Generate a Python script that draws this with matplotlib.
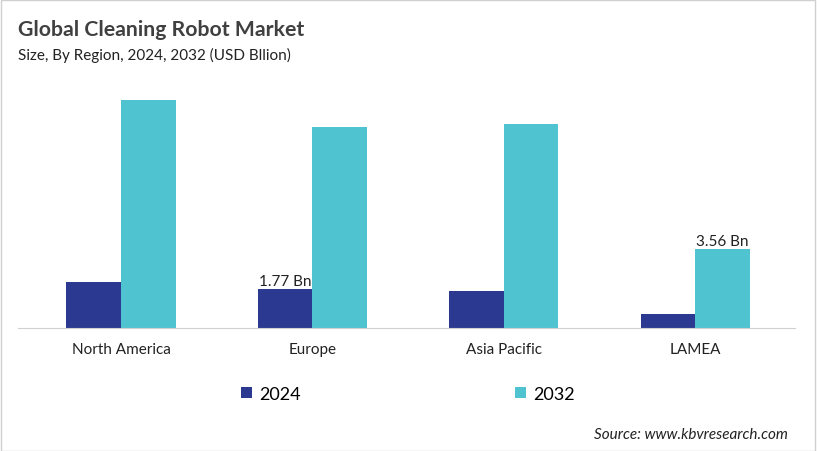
import matplotlib.pyplot as plt
import numpy as np
from matplotlib.patches import Rectangle

regions = ["North America", "Europe", "Asia Pacific", "LAMEA"]
val_2024 = [2.08, 1.77, 1.67, 0.63]
val_2032 = [10.3, 9.1, 9.23, 3.56]
labels_2024 = {1: "1.77 Bn"}
labels_2032 = {3: "3.56 Bn"}

c2024 = "#2B3990"
c2032 = "#4FC3CF"

plt.rcParams['font.family'] = ['Lato', 'DejaVu Sans']

fig = plt.figure(figsize=(8.17, 4.52), dpi=100)
# light border around the picture
fig.patches.append(Rectangle((0.001, 0.001), 0.997, 0.996, transform=fig.transFigure,
                             fill=False, edgecolor="#d0d0d0", linewidth=1))

ax = fig.add_axes([18 / 817, 1 - 329 / 452, (795 - 18) / 817, (329 - 86) / 452])
x = np.arange(len(regions))
w = 0.285
ax.bar(x - w / 2, val_2024, w, color=c2024, label="2024")
ax.bar(x + w / 2, val_2032, w, color=c2032, label="2032")

for i, t in labels_2024.items():
    ax.text(x[i] - w / 2, val_2024[i] + 0.05, t, ha="center", va="bottom", fontsize=11, color="#222222")
for i, t in labels_2032.items():
    ax.text(x[i] + w / 2, val_2032[i] + 0.05, t, ha="center", va="bottom", fontsize=11, color="#222222")

ax.set_xlim(-0.538, 3.522)
ax.set_ylim(0, 11)
ax.set_yticks([])
ax.set_xticks(x)
ax.set_xticklabels(regions, fontsize=11, color="#222222")
ax.tick_params(axis="x", length=0, pad=10)
for s in ["top", "right", "left"]:
    ax.spines[s].set_visible(False)
ax.spines["bottom"].set_color("#d0d0d0")

fig.text(18 / 817, 1 - 30 / 452, "Global Cleaning Robot Market", fontsize=15.3, fontweight="bold",
         color="#404040", va="center")
fig.text(18 / 817, 1 - 55 / 452, "Size, By Region, 2024, 2032 (USD Bllion)", fontsize=11,
         color="#222222", va="center")

fig.legend(loc="center", bbox_to_anchor=(408 / 817, 1 - 395 / 452), ncol=2, frameon=False,
           fontsize=13, handlelength=0.6, handleheight=0.6, handletextpad=0.4, columnspacing=11.9)

fig.text(788 / 817, 1 - 435 / 452, "Source: www.kbvresearch.com", fontsize=11, style="italic",
         color="#222222", ha="right", va="center")

fig.savefig("out.png", dpi=100)
